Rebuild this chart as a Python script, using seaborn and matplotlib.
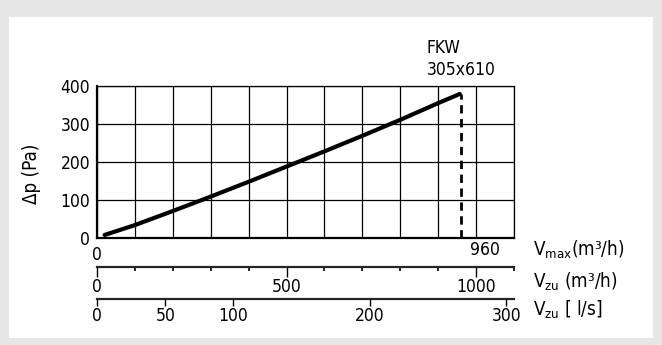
import matplotlib
matplotlib.use('Agg')
import matplotlib.pyplot as plt
from matplotlib.patches import Rectangle
from matplotlib.ticker import FixedLocator, NullFormatter
import pandas as pd
import seaborn as sns

# volume flow (m3/h) vs pressure drop (Pa)
flow_m3h = [20, 100, 200, 300, 400, 500, 600, 700, 800, 900, 957]
dp_pa = [8, 34, 71, 109, 148, 188, 228, 269, 311, 355, 379]
v_max = 960
dp_max = 379
x_limit = 1100
y_ticks = [0, 100, 200, 300, 400]
m3h_major = [0, 500, 1000]
m3h_minor = [100, 200, 300, 400, 600, 700, 800, 900, 1100]
ls_ticks = [0, 50, 100, 200, 300]
title_lines = ['FKW', '305x610']

sns.set_style('white')
plt.rcParams['font.family'] = ['DejaVu Sans']
plt.rcParams['font.stretch'] = 'condensed'
plt.rcParams['mathtext.default'] = 'regular'
for key in ['text.color', 'axes.labelcolor', 'xtick.color', 'ytick.color']:
    plt.rcParams[key] = 'black'
fs = 12.5

fig = plt.figure(figsize=(6.62, 3.45), dpi=100, facecolor='#e6e6e6')
W, H = 662, 345
fig.add_artist(Rectangle((9 / W, 1 - 338 / H), (653 - 9) / W, (338 - 17) / H,
                         transform=fig.transFigure, facecolor='white', edgecolor='none', zorder=0))

ax = fig.add_axes([97 / W, 1 - 238 / H, 417 / W, 152 / H])
ax.set_facecolor('white')

df = pd.DataFrame({'flow': flow_m3h, 'dp': dp_pa})
sns.lineplot(data=df, x='flow', y='dp', ax=ax, color='black', linewidth=3, zorder=5)
ax.plot([v_max, v_max], [0, dp_max], color='black', linewidth=2, linestyle=(0, (3, 2)), zorder=5)

ax.set_xlim(0, x_limit)
ax.set_ylim(0, 400)
ax.set_yticks(y_ticks)
ax.set_yticklabels([str(v) for v in y_ticks], fontsize=fs)
ax.set_xticks([0])
ax.set_xticklabels(['0'], fontsize=fs)
ax.xaxis.set_minor_locator(FixedLocator(list(range(100, x_limit + 1, 100))))
ax.tick_params(axis='x', which='major', direction='out', length=4, width=1, pad=2)
ax.tick_params(axis='x', which='minor', length=0)
ax.tick_params(axis='y', direction='out', length=4, width=1, pad=1)
ax.grid(True, which='both', color='black', linewidth=0.9)
for side in ['top', 'right']:
    ax.spines[side].set_linewidth(0.9)
    ax.spines[side].set_color('black')
for side in ['left', 'bottom']:
    ax.spines[side].set_linewidth(1.6)
    ax.spines[side].set_color('black')
ax.set_xlabel('')
ax.set_ylabel('Δp (Pa)', fontsize=fs + 1)
ax.yaxis.set_label_coords(-0.135, 0.42)

ax.annotate(str(v_max), xy=(v_max, 0), xytext=(24, -12), textcoords='offset pixels',
            ha='center', va='center', fontsize=fs)
ax.annotate('\n'.join(title_lines), xy=(v_max, 400), xytext=(-34, 7), textcoords='offset pixels',
            ha='left', va='bottom', fontsize=fs, linespacing=1.3)

# secondary scale: supply flow in m3/h
sec1 = ax.secondary_xaxis(-29 / 152)
sec1.set_xticks(m3h_major)
sec1.set_xticklabels([str(v) for v in m3h_major], fontsize=fs)
sec1.xaxis.set_minor_locator(FixedLocator(m3h_minor))
sec1.xaxis.set_minor_formatter(NullFormatter())
sec1.tick_params(which='major', direction='out', length=7, width=1, pad=1)
sec1.tick_params(which='minor', direction='out', length=3, width=1.2)
sec1.spines['bottom'].set_linewidth(1.6)

# secondary scale: supply flow in l/s
sec2 = ax.secondary_xaxis(-61 / 152, functions=(lambda x: x / 3.6, lambda x: x * 3.6))
sec2.set_xticks(ls_ticks)
sec2.set_xticklabels([str(v) for v in ls_ticks], fontsize=fs)
sec2.tick_params(which='major', direction='out', length=5, width=1, pad=1)
sec2.tick_params(which='minor', length=0)
sec2.spines['bottom'].set_linewidth(1.6)

# right hand axis captions
fig.text(533 / W, 1 - 250 / H, '$V_{max}$(m³/h)', fontsize=fs + 1, ha='left', va='center')
fig.text(533 / W, 1 - 282 / H, '$V_{zu}$ (m³/h)', fontsize=fs + 1, ha='left', va='center')
fig.text(533 / W, 1 - 310 / H, '$V_{zu}$ [ l/s]', fontsize=fs + 1, ha='left', va='center')

fig.savefig('out.png', dpi=100, facecolor=fig.get_facecolor())
